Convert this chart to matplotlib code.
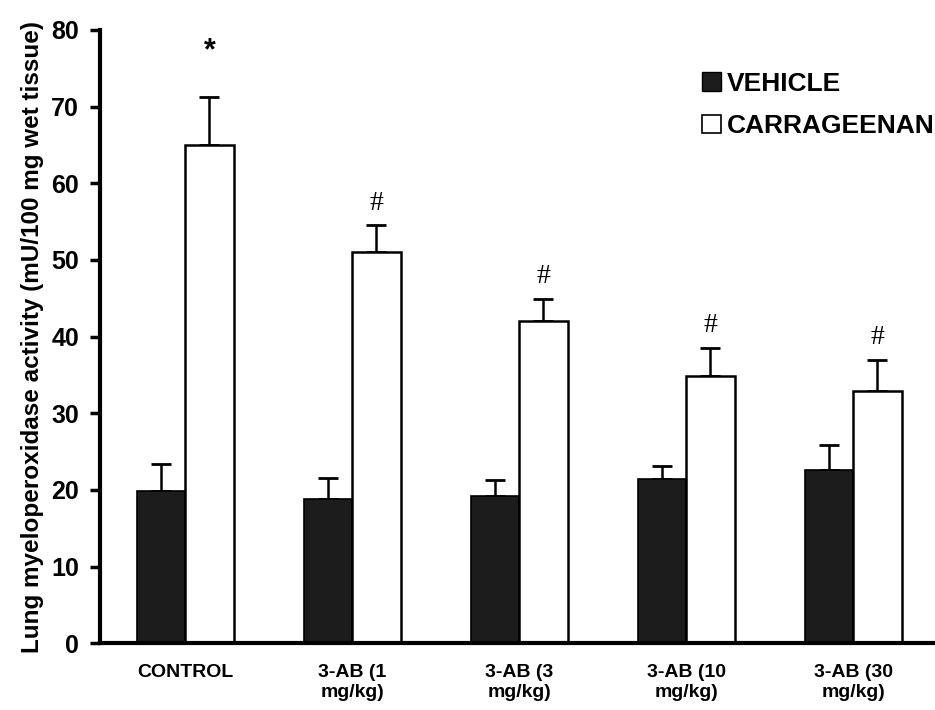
import numpy as np
import matplotlib.pyplot as plt
from matplotlib.patches import Patch

# datos
groups = ['CONTROL', '3-AB (1\nmg/kg)', '3-AB (3\nmg/kg)', '3-AB (10\nmg/kg)', '3-AB (30\nmg/kg)']
vehicle = [19.9, 18.8, 19.2, 21.4, 22.6]
vehicle_err = [3.5, 2.8, 2.1, 1.7, 3.2]
carrageenan = [65.0, 51.0, 42.0, 34.9, 32.9]
carrageenan_err = [6.3, 3.5, 2.9, 3.6, 4.1]
marks = ['*', '#', '#', '#', '#']

plt.rcParams['font.family'] = ['Liberation Sans', 'DejaVu Sans']
plt.rcParams['font.weight'] = 'bold'

fig = plt.figure(figsize=(9.35, 7.1), dpi=100)
ax = fig.add_axes([0.107, 0.094, 0.893, 0.864])

x = np.arange(len(groups))
w = 0.29
ax.bar(x - w / 2, vehicle, w, color='#1c1c1c', edgecolor='black', linewidth=1.2, zorder=2)
ax.bar(x + w / 2, carrageenan, w, color='white', edgecolor='black', linewidth=1.8, zorder=2)

# barras de error solo hacia arriba
ax.errorbar(x - w / 2, vehicle, yerr=[np.zeros(5), vehicle_err], fmt='none',
            ecolor='black', elinewidth=1.8, capsize=7, capthick=2, zorder=1)
ax.errorbar(x + w / 2, carrageenan, yerr=[np.zeros(5), carrageenan_err], fmt='none',
            ecolor='black', elinewidth=1.8, capsize=7, capthick=2, zorder=1)

for xi, v, e, m in zip(x, carrageenan, carrageenan_err, marks):
    if m == '#':
        ax.annotate(m, (xi + w / 2, v + e), xytext=(0, 7), textcoords='offset points',
                    ha='center', va='bottom', fontsize=20, family='Liberation Serif',
                    fontweight='normal')
    else:
        ax.annotate(m, (xi + w / 2, v + e), xytext=(0, 22), textcoords='offset points',
                    ha='center', va='bottom', fontsize=22, fontweight='bold')

ax.set_xlim(-0.51, 4.49)
ax.set_ylim(0, 80)
ax.set_yticks(np.arange(0, 81, 10))
ax.tick_params(axis='y', labelsize=18, width=2.5, length=7, pad=8)
ax.set_xticks(x)
ax.set_xticklabels(groups, fontsize=14, fontweight='bold')
ax.tick_params(axis='x', length=0, pad=15)
for lab in ax.get_yticklabels():
    lab.set_fontweight('bold')

ax.spines['top'].set_visible(False)
ax.spines['right'].set_visible(False)
ax.spines['left'].set_linewidth(3)
ax.spines['bottom'].set_linewidth(3)

ax.set_ylabel('Lung myeloperoxidase activity (mU/100 mg wet tissue)', fontsize=17.5,
              fontweight='bold', labelpad=5)

handles = [Patch(facecolor='#1c1c1c', edgecolor='black', label='VEHICLE'),
           Patch(facecolor='white', edgecolor='black', linewidth=1.2, label='CARRAGEENAN')]
ax.legend(handles=handles, loc='upper right', bbox_to_anchor=(1.022, 0.962), frameon=False,
          prop={'size': 19, 'weight': 'bold'}, handlelength=0.7, handleheight=0.7,
          handletextpad=0.25, labelspacing=0.7, borderpad=0.2)

fig.savefig('out.png', dpi=100)
